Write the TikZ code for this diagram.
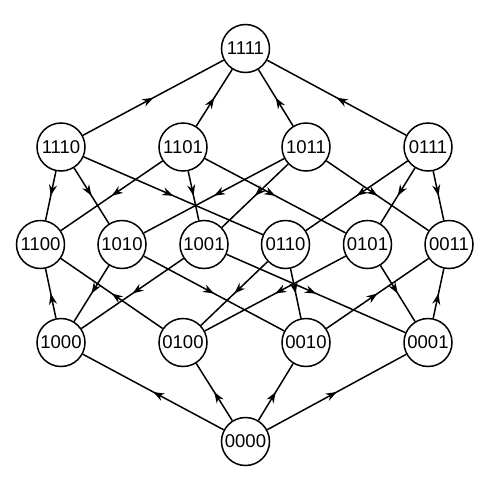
\documentclass[tikz,border=0pt]{standalone}
\usepackage{fontspec}
\setmainfont{Liberation Sans}
\usetikzlibrary{arrows.meta,decorations.markings}
\tikzset{
  vtx/.style={circle,draw,line width=1.5pt,minimum size=48pt,inner sep=0pt,font=\fontsize{18.5}{21}\selectfont},
  edg/.style={line width=1.5pt,postaction={decorate},decoration={markings,mark=at position 0.5 with {\arrow{Stealth[length=11pt,width=8pt]}}}}
}
\begin{document}
\begin{tikzpicture}[x=1pt,y=-1pt]
\useasboundingbox (0,0) rectangle (490,490);
\node[vtx] (a1111) at (245.5,48.5) {1111};
\node[vtx] (a1110) at (61,147) {1110};
\node[vtx] (a1101) at (183,147) {1101};
\node[vtx] (a1011) at (306,147) {1011};
\node[vtx] (a0111) at (428,147) {0111};
\node[vtx] (a1100) at (40.5,244.5) {1100};
\node[vtx] (a1010) at (122,244.5) {1010};
\node[vtx] (a1001) at (204,244.5) {1001};
\node[vtx] (a0110) at (285.5,244.5) {0110};
\node[vtx] (a0101) at (367.5,244.5) {0101};
\node[vtx] (a0011) at (449,244.5) {0011};
\node[vtx] (a1000) at (61,342.5) {1000};
\node[vtx] (a0100) at (183,342.5) {0100};
\node[vtx] (a0010) at (306,342.5) {0010};
\node[vtx] (a0001) at (428,342.5) {0001};
\node[vtx] (a0000) at (245.5,441.5) {0000};
% level 0 -> 1 (up)
\draw[edg] (a0000) -- (a1000);
\draw[edg] (a0000) -- (a0100);
\draw[edg] (a0000) -- (a0010);
\draw[edg] (a0000) -- (a0001);
% level 1 - 2
\draw[edg] (a1000) -- (a1100);
\draw[edg] (a1010) -- (a1000);
\draw[edg] (a1001) -- (a1000);
\draw[edg] (a0100) -- (a1100);
\draw[edg] (a0110) -- (a0100);
\draw[edg] (a0101) -- (a0100);
\draw[edg] (a1010) -- (a0010);
\draw[edg] (a0110) -- (a0010);
\draw[edg] (a0010) -- (a0011);
\draw[edg] (a1001) -- (a0001);
\draw[edg] (a0101) -- (a0001);
\draw[edg] (a0001) -- (a0011);
% level 3 -> 2 (down)
\draw[edg] (a1110) -- (a1100);
\draw[edg] (a1110) -- (a1010);
\draw[edg] (a1110) -- (a0110);
\draw[edg] (a1101) -- (a1100);
\draw[edg] (a1101) -- (a1001);
\draw[edg] (a1101) -- (a0101);
\draw[edg] (a1011) -- (a1010);
\draw[edg] (a1011) -- (a1001);
\draw[edg] (a1011) -- (a0011);
\draw[edg] (a0111) -- (a0110);
\draw[edg] (a0111) -- (a0101);
\draw[edg] (a0111) -- (a0011);
% level 3 -> 4 (up)
\draw[edg] (a1110) -- (a1111);
\draw[edg] (a1101) -- (a1111);
\draw[edg] (a1011) -- (a1111);
\draw[edg] (a0111) -- (a1111);
\end{tikzpicture}
\end{document}
